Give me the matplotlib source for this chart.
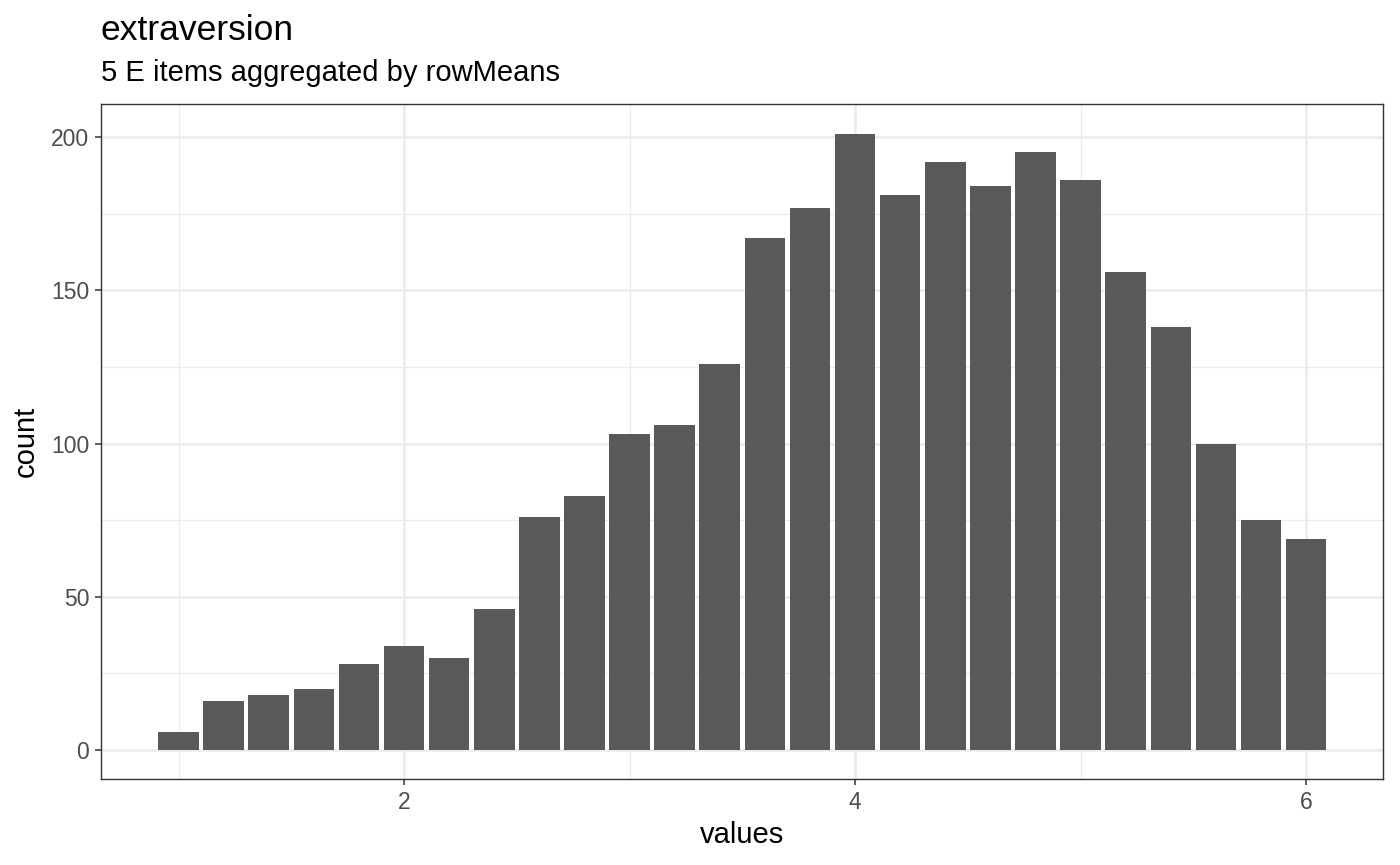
import matplotlib
matplotlib.use("Agg")
import matplotlib.pyplot as plt
import numpy as np

plt.rcParams['font.family'] = ['Liberation Sans', 'DejaVu Sans']

# donnees
values = [1.0, 1.2, 1.4, 1.6, 1.8, 2.0, 2.2, 2.4, 2.6, 2.8, 3.0, 3.2, 3.4,
          3.6, 3.8, 4.0, 4.2, 4.4, 4.6, 4.8, 5.0, 5.2, 5.4, 5.6, 5.8, 6.0]
counts = [6, 16, 18, 20, 28, 34, 30, 46, 76, 83, 103, 106, 126,
          167, 177, 201, 181, 192, 184, 195, 186, 156, 138, 100, 75, 69]
x_ticks = [2, 4, 6]
y_ticks = [0, 50, 100, 150, 200]

fig = plt.figure(figsize=(14, 8.65), dpi=100)
ax = fig.add_axes([101 / 1400, 86 / 865, 1282 / 1400, 675 / 865])

ax.bar(values, counts, width=0.18, color='#595959', zorder=3)

ax.set_xlim(0.656, 6.341)
ax.set_ylim(-9.46, 210.8)

# grille style theme_bw
for xm in [1, 3, 5]:
    ax.axvline(xm, color='#EBEBEB', lw=0.9, zorder=1)
for ym in [25, 75, 125, 175]:
    ax.axhline(ym, color='#EBEBEB', lw=0.9, zorder=1)
for xg in x_ticks:
    ax.axvline(xg, color='#EBEBEB', lw=1.8, zorder=1)
for yg in y_ticks:
    ax.axhline(yg, color='#EBEBEB', lw=1.8, zorder=1)

ax.set_xticks(x_ticks)
ax.set_yticks(y_ticks)
ax.tick_params(axis='both', colors='#333333', labelcolor='#4D4D4D',
               labelsize=16.5, length=4.5, width=1.1, pad=4)
for s in ax.spines.values():
    s.set_color('#333333')
    s.set_linewidth(1)

ax.set_xlabel('values', fontsize=21, labelpad=5)
ax.set_ylabel('count', fontsize=21, labelpad=8)

fig.text(101 / 1400, 1 - 40 / 865, 'extraversion', fontsize=25.5, ha='left', va='baseline')
fig.text(101 / 1400, 1 - 81 / 865, '5 E items aggregated by rowMeans', fontsize=21,
         ha='left', va='baseline')

fig.savefig('out.png', dpi=100)
